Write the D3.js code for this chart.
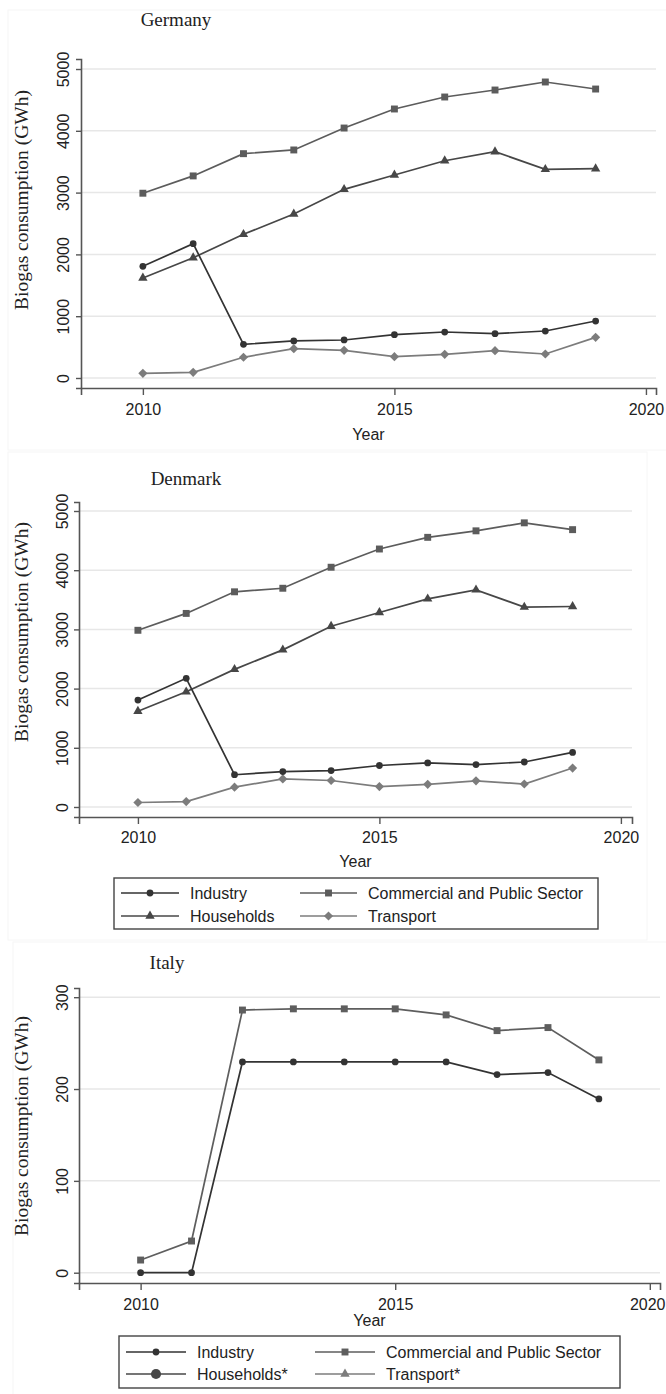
<!DOCTYPE html>
<html>
<head>
<meta charset="utf-8">
<script src="https://cdn.jsdelivr.net/npm/d3@7"></script>
<style>
  html, body { margin: 0; padding: 0; background: #fff; }
  svg { display: block; }
</style>
</head>
<body>
<svg id="chart" width="666" height="1394"></svg>
<script>
// ---------------- DATA ----------------
const years = [2010, 2011, 2012, 2013, 2014, 2015, 2016, 2017, 2018, 2019];

const germanyIndustry    = [1807, 2174, 545, 599, 615, 701, 744, 717, 760, 922];
const germanyCommercial  = [2990, 3270, 3630, 3690, 4045, 4353, 4547, 4660, 4790, 4676];
const germanyHouseholds  = [1618, 1946, 2325, 2654, 3053, 3285, 3516, 3662, 3377, 3387];
const germanyTransport   = [76, 92, 335, 475, 448, 345, 383, 442, 388, 658];

const denmarkIndustry    = [1807, 2174, 545, 599, 615, 701, 744, 717, 760, 922];
const denmarkCommercial  = [2985, 3270, 3635, 3695, 4050, 4358, 4555, 4665, 4800, 4685];
const denmarkHouseholds  = [1618, 1946, 2325, 2654, 3053, 3285, 3516, 3668, 3377, 3387];
const denmarkTransport   = [76, 92, 335, 475, 448, 345, 383, 442, 388, 658];

const italyIndustry      = [0, 0, 229.5, 229.5, 229.5, 229.5, 229.5, 215.7, 217.9, 189.2];
const italyCommercial    = [13.8, 34.5, 286, 287.3, 287.3, 287.3, 280.7, 263.6, 266.9, 231.7];

const xTickValues  = [2010, 2015, 2020];
const yTicksLarge  = [0, 1000, 2000, 3000, 4000, 5000];
const yTicksItaly  = [0, 100, 200, 300];

const countryTitles = ["Germany", "Denmark", "Italy"];
const xAxisTitle = "Year";
const yAxisTitle = "Biogas consumption (GWh)";
const legendLabelsMain  = ["Industry", "Commercial and Public Sector", "Households", "Transport"];
const legendLabelsItaly = ["Industry", "Commercial and Public Sector", "Households*", "Transport*"];

// ---------------- STYLES ----------------
const col = {
  industry: "#333333",
  commercial: "#5c5c5c",
  households: "#474747",
  transport: "#7c7c7c"
};
const sym = {
  circle:   { type: d3.symbolCircle,   size: 36, rot: 0 },
  bigCircle:{ type: d3.symbolCircle,   size: 80, rot: 0 },
  square:   { type: d3.symbolSquare,   size: 48, rot: 0 },
  triangle: { type: d3.symbolTriangle, size: 38, rot: 0 },
  diamond:  { type: d3.symbolSquare,   size: 42, rot: 45 }
};

const svg = d3.select("#chart");
const sansFont = "'Liberation Sans', Arial, sans-serif";
const serifFont = "'Liberation Serif', 'Times New Roman', serif";

function panel(cfg) {
  const g = svg.append("g");
  // faint panel frame
  g.append("rect")
    .attr("x", cfg.frame[0]).attr("y", cfg.frame[1])
    .attr("width", cfg.frame[2]).attr("height", cfg.frame[3])
    .attr("fill", "none").attr("stroke", "#f6f6f6").attr("stroke-width", 1);

  const x = d3.scaleLinear().domain(cfg.xDomain).range([cfg.left, cfg.right]);
  const y = d3.scaleLinear().domain(cfg.yDomain).range([cfg.bottom, cfg.top]);

  // gridlines
  g.append("g").selectAll("line").data(cfg.yTicks).join("line")
    .attr("x1", cfg.left).attr("x2", cfg.right)
    .attr("y1", d => y(d)).attr("y2", d => y(d))
    .attr("stroke", "#e7e7e7").attr("stroke-width", 1.5);

  // y axis
  const yAxis = g.append("g").attr("transform", `translate(${cfg.left},0)`)
    .call(d3.axisLeft(y).tickValues(cfg.yTicks).tickSize(5).tickPadding(0).tickFormat(d3.format("d")));
  yAxis.select(".domain").attr("stroke", "#555").attr("stroke-width", 1.6);
  yAxis.selectAll(".tick line").attr("stroke", "#555").attr("stroke-width", 1.4);
  yAxis.selectAll(".tick text")
    .attr("font-family", sansFont).attr("font-size", 16).attr("fill", "#222")
    .attr("text-anchor", "middle")
    .attr("x", 0).attr("y", 0).attr("dy", 0)
    .attr("transform", `translate(${cfg.yLabelX - cfg.left},0) rotate(-90)`);

  // x axis
  const xAxis = g.append("g").attr("transform", `translate(0,${cfg.bottom})`)
    .call(d3.axisBottom(x).tickValues(xTickValues).tickSize(7).tickPadding(0).tickFormat(d3.format("d")));
  xAxis.select(".domain").attr("stroke", "#555").attr("stroke-width", 1.6);
  xAxis.selectAll(".tick line").attr("stroke", "#555").attr("stroke-width", 1.4);
  xAxis.selectAll(".tick text")
    .attr("font-family", sansFont).attr("font-size", 16).attr("fill", "#222")
    .attr("dy", 0).attr("y", cfg.tickBaseline - cfg.bottom)
    .attr("x", function (d) {
      // keep the label inside the page if it would run past the right edge
      const half = this.getComputedTextLength() / 2;
      const over = x(d) + half - 665;
      return over > 0 ? -over : 0;
    });

  // titles
  g.append("text").attr("x", cfg.titleX).attr("y", cfg.titleY)
    .attr("text-anchor", "middle").attr("font-family", serifFont)
    .attr("font-size", 19).attr("fill", "#222").text(cfg.title);
  g.append("text").attr("x", (cfg.left + cfg.right) / 2).attr("y", cfg.yearY)
    .attr("text-anchor", "middle").attr("font-family", sansFont)
    .attr("font-size", 16).attr("fill", "#222").text(xAxisTitle);
  g.append("text")
    .attr("transform", `translate(28,${cfg.yTitleY}) rotate(-90)`)
    .attr("text-anchor", "middle").attr("font-family", serifFont)
    .attr("font-size", 19.5).attr("fill", "#222").text(yAxisTitle);

  // series
  const line = d3.line().x(d => x(d[0])).y(d => y(d[1]));
  cfg.series.forEach(s => {
    const pts = years.map((yr, i) => [yr, s.values[i]]);
    g.append("path").datum(pts).attr("d", line)
      .attr("fill", "none").attr("stroke", s.color).attr("stroke-width", 1.7);
    g.append("g").selectAll("path").data(pts).join("path")
      .attr("d", d3.symbol().type(s.sym.type).size(s.sym.size))
      .attr("transform", d => `translate(${x(d[0])},${y(d[1])}) rotate(${s.sym.rot})`)
      .attr("fill", s.color);
  });

  // legend
  if (cfg.legend) {
    const L = cfg.legend;
    const lg = g.append("g");
    lg.append("rect").attr("x", L.box[0]).attr("y", L.box[1])
      .attr("width", L.box[2] - L.box[0]).attr("height", L.box[3] - L.box[1])
      .attr("fill", "#fff").attr("stroke", "#444").attr("stroke-width", 1.4);
    L.items.forEach(it => {
      const c = L.cols[it.col], ry = L.rows[it.row];
      lg.append("line").attr("x1", c.x1).attr("x2", c.x2).attr("y1", ry).attr("y2", ry)
        .attr("stroke", it.color).attr("stroke-width", 1.7);
      lg.append("path").attr("d", d3.symbol().type(it.sym.type).size(it.sym.size))
        .attr("transform", `translate(${(c.x1 + c.x2) / 2},${ry}) rotate(${it.sym.rot})`)
        .attr("fill", it.color);
      lg.append("text").attr("x", c.tx).attr("y", ry + 6)
        .attr("font-family", sansFont).attr("font-size", 16).attr("fill", "#222")
        .text(it.label);
    });
  }
}

// Germany
panel({
  title: countryTitles[0], titleX: 176, titleY: 26,
  frame: [8, 10, 660, 440],
  left: 81, right: 656, top: 59, bottom: 388,
  xDomain: [2008.77, 2020.2], yDomain: [-162, 5162],
  yTicks: yTicksLarge, yLabelX: 69, tickBaseline: 415, yearY: 440, yTitleY: 200,
  series: [
    { values: germanyCommercial, color: col.commercial, sym: sym.square },
    { values: germanyHouseholds, color: col.households, sym: sym.triangle },
    { values: germanyTransport,  color: col.transport,  sym: sym.diamond },
    { values: germanyIndustry,   color: col.industry,   sym: sym.circle }
  ]
});

// Denmark
panel({
  title: countryTitles[1], titleX: 186, titleY: 485,
  frame: [8, 452, 639, 488],
  left: 79, right: 632, top: 502, bottom: 817,
  xDomain: [2008.78, 2020.23], yDomain: [-169, 5152],
  yTicks: yTicksLarge, yLabelX: 68, tickBaseline: 843, yearY: 867, yTitleY: 632,
  series: [
    { values: denmarkCommercial, color: col.commercial, sym: sym.square },
    { values: denmarkHouseholds, color: col.households, sym: sym.triangle },
    { values: denmarkTransport,  color: col.transport,  sym: sym.diamond },
    { values: denmarkIndustry,   color: col.industry,   sym: sym.circle }
  ],
  legend: {
    box: [114, 878, 598, 929],
    rows: [893, 916],
    cols: [{ x1: 121, x2: 179, tx: 190 }, { x1: 300, x2: 357, tx: 368 }],
    items: [
      { label: legendLabelsMain[0], col: 0, row: 0, color: col.industry,   sym: sym.circle },
      { label: legendLabelsMain[1], col: 1, row: 0, color: col.commercial, sym: sym.square },
      { label: legendLabelsMain[2], col: 0, row: 1, color: col.households, sym: sym.triangle },
      { label: legendLabelsMain[3], col: 1, row: 1, color: col.transport,  sym: sym.diamond }
    ]
  }
});

// Italy
panel({
  title: countryTitles[2], titleX: 167, titleY: 969,
  frame: [13, 942, 660, 460],
  left: 79, right: 660, top: 988, bottom: 1283,
  xDomain: [2008.79, 2020.2], yDomain: [-11.2, 310],
  yTicks: yTicksItaly, yLabelX: 68, tickBaseline: 1310, yearY: 1326, yTitleY: 1126,
  series: [
    { values: italyCommercial, color: "#5e5e5e", sym: sym.square },
    { values: italyIndustry,   color: col.industry, sym: sym.circle }
  ],
  legend: {
    box: [119, 1336, 620, 1388],
    rows: [1352, 1374],
    cols: [{ x1: 126, x2: 186, tx: 197 }, { x1: 315, x2: 375, tx: 386 }],
    items: [
      { label: legendLabelsItaly[0], col: 0, row: 0, color: col.industry,   sym: sym.circle },
      { label: legendLabelsItaly[1], col: 1, row: 0, color: "#5e5e5e",      sym: sym.square },
      { label: legendLabelsItaly[2], col: 0, row: 1, color: col.households, sym: sym.bigCircle },
      { label: legendLabelsItaly[3], col: 1, row: 1, color: col.transport,  sym: sym.triangle }
    ]
  }
});
</script>
</body>
</html>
